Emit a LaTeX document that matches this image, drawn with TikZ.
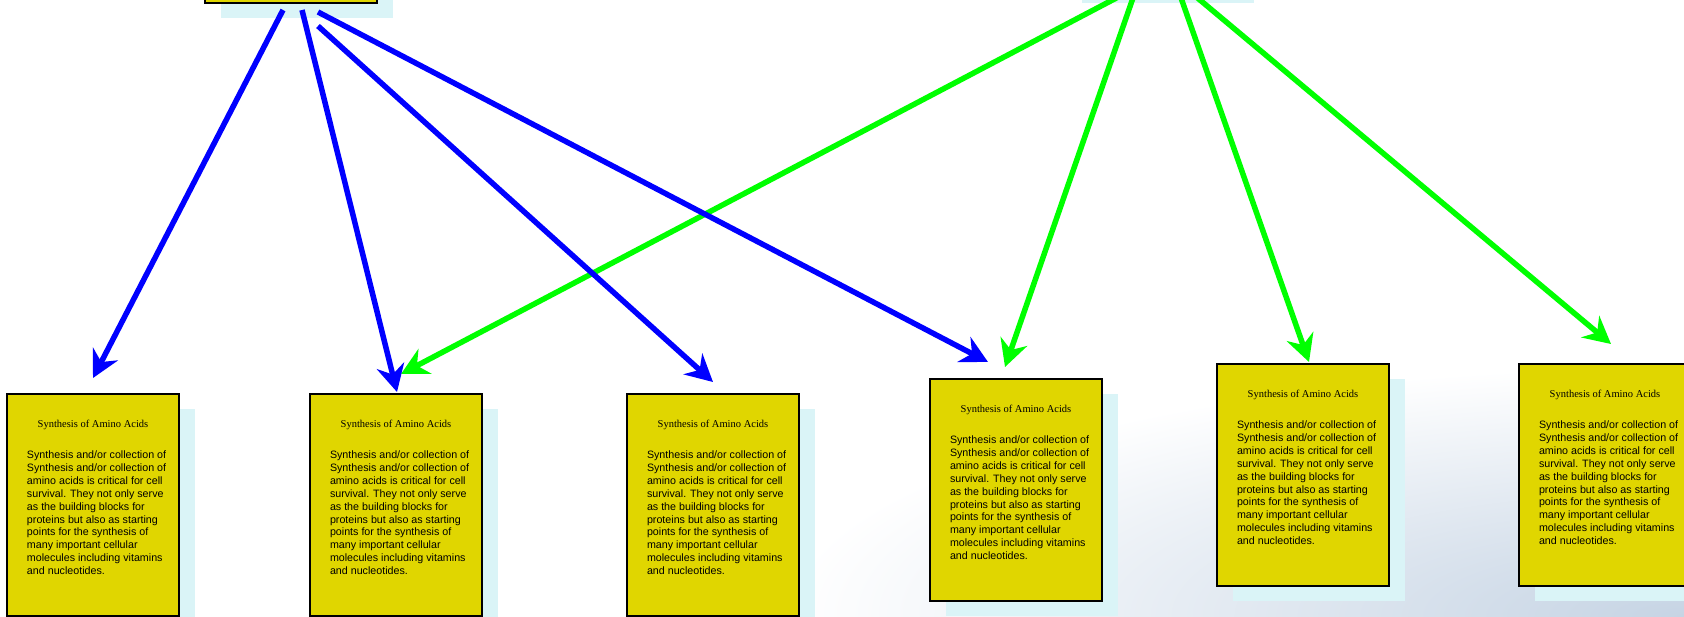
\documentclass[tikz,border=0pt]{standalone}
\usepackage{fontspec}
\setmainfont{Liberation Serif}
\setsansfont{Liberation Sans}
\usepackage{tikz}
\usetikzlibrary{arrows.meta,shadows,calc}
\definecolor{jaune}{RGB}{224,214,0}
\definecolor{ombre}{RGB}{218,244,247}
\definecolor{fond}{RGB}{198,212,228}
\tikzstyle{fiche} = [rectangle, draw=black, line width=2pt, fill=jaune, minimum width=172pt, minimum height=222pt, inner xsep=20pt, inner ysep=0pt, anchor=north west, drop shadow={shadow xshift=16pt, shadow yshift=-15pt, fill=ombre, opacity=1}]
\tikzstyle{fleche bleue} = [-{Stealth[length=27pt,width=28pt,inset=9pt]}, draw=blue, fill=blue, line width=5.5pt]
\tikzstyle{fleche verte} = [-{Stealth[length=27pt,width=28pt,inset=9pt]}, draw=green, fill=green, line width=5.5pt]
\newcommand{\ligne}[1]{\makebox[132pt][l]{#1}\\}
\newcommand{\fichetexte}{\parbox[t][222pt][t]{132pt}{\vspace*{23.9pt}\centering{\rmfamily\fontsize{10.5}{13}\selectfont\strut Synthesis of Amino Acids}\par
\vspace{18.6pt}\raggedright\sffamily\fontsize{10.7}{12.9}\selectfont
\ligne{Synthesis and/or collection of}
\ligne{Synthesis and/or collection of}
\ligne{amino acids is critical for cell}
\ligne{survival. They not only serve}
\ligne{as the building blocks for}
\ligne{proteins but also as starting}
\ligne{points for the synthesis of}
\ligne{many important cellular}
\ligne{molecules including vitamins}
\makebox[132pt][l]{and nucleotides.}\par}}

\begin{document}
\begin{tikzpicture}[x=1pt,y=1pt]

        \useasboundingbox (0,0) rectangle (1684,-616);
        \clip (0,0) rectangle (1684,-616);
        \fill[white] (0,0) rectangle (1684,-616);
        \shade[inner color=fond, outer color=white] (784,-366) rectangle (2584,-866);

        \node (SA) [fiche, anchor=south west] at (204,-4) {};
        \node (SB) [fiche, anchor=south west] at (1065,11) {};

        \node (AA1) [fiche] at (6,-393) {\fichetexte};
        \node (AA2) [fiche] at (309,-393) {\fichetexte};
        \node (AA3) [fiche] at (626,-393) {\fichetexte};
        \node (AA4) [fiche] at (929,-378) {\fichetexte};
        \node (AA5) [fiche] at (1216,-363) {\fichetexte};
        \node (AA6) [fiche] at (1518,-363) {\fichetexte};

        \draw[fleche verte] ($(SB.south)+(-30,-6)$) -- ($(AA2.north west)+(92,19)$);
        \draw[fleche verte] ($(SB.south)+(-18,-6)$) -- ($(AA4.north west)+(76,11)$);
        \draw[fleche verte] ($(SB.south)+(28,-6)$) -- ($(AA5.north west)+(93,1)$);
        \draw[fleche verte] ($(SB.south)+(42,-6)$) -- ($(AA6.north west)+(93,19)$);

        \draw[fleche bleue] ($(SA.south)+(-8,-6)$) -- ($(AA1.north west)+(87,15)$);
        \draw[fleche bleue] ($(SA.south)+(11,-6)$) -- ($(AA2.north west)+(88,1)$);
        \draw[fleche bleue] ($(SA.south)+(27,-22)$) -- ($(AA3.north west)+(87,11)$);
        \draw[fleche bleue] ($(SA.south)+(27,-8)$) -- ($(AA4.north west)+(59,16)$);

\end{tikzpicture}
\end{document}
